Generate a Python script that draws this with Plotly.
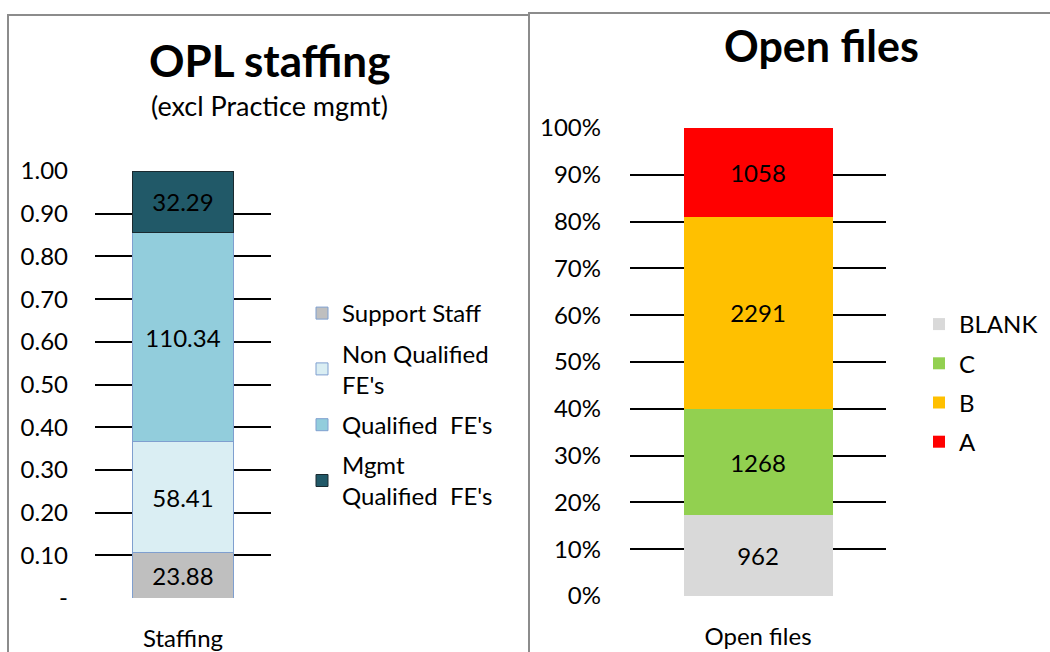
import plotly.graph_objects as go

# ---------------- data ----------------
staff_categories = ["Staffing"]
staff_series = ["Support Staff", "Non Qualified<br>FE's", "Qualified\u00a0 FE's", "Mgmt<br>Qualified\u00a0 FE's"]
staff_values = [23.88, 58.41, 110.34, 32.29]
staff_colors = ["#BFBFBF", "#DAEEF3", "#92CDDC", "#215968"]
staff_line_colors = ["#7F9FCF", "#7F9FCF", "#7F9FCF", "#1A2A30"]
staff_tickvals = [0, 0.1, 0.2, 0.3, 0.4, 0.5, 0.6, 0.7, 0.8, 0.9, 1.0]
staff_ticktext = ["-", "0.10", "0.20", "0.30", "0.40", "0.50", "0.60", "0.70", "0.80", "0.90", "1.00"]

files_categories = ["Open files"]
files_series = ["BLANK", "C", "B", "A"]
files_values = [962, 1268, 2291, 1058]
files_colors = ["#D9D9D9", "#92D050", "#FFC000", "#FF0000"]
files_tickvals = [0, 0.1, 0.2, 0.3, 0.4, 0.5, 0.6, 0.7, 0.8, 0.9, 1.0]
files_ticktext = ["0%", "10%", "20%", "30%", "40%", "50%", "60%", "70%", "80%", "90%", "100%"]

W, H = 1050, 652
FONT = "Lato"
FS = 24
px = lambda x: x / W
py = lambda y: 1 - y / H

fig = go.Figure()

for name, val, col, lc in zip(staff_series, staff_values, staff_colors, staff_line_colors):
    fig.add_trace(go.Bar(
        x=staff_categories, y=[val], name=name, text=[f"{val:.2f}"],
        textposition="inside", insidetextanchor="middle", textangle=0,
        textfont=dict(family=FONT, size=FS, color="black"),
        marker=dict(color=col, line=dict(color=lc, width=1)),
        width=0.577, xaxis="x", yaxis="y", legend="legend", legendgroup=name,
    ))

for name, val, col in zip(files_series, files_values, files_colors):
    fig.add_trace(go.Bar(
        x=files_categories, y=[val], name=name, text=[str(val)],
        textposition="inside", insidetextanchor="middle", textangle=0,
        textfont=dict(family=FONT, size=FS, color="black"),
        marker=dict(color=col, line=dict(width=0)),
        width=0.582, xaxis="x2", yaxis="y2", legend="legend2", legendgroup=name,
    ))

axis_common = dict(showline=False, zeroline=False, ticks="", automargin=False,
                   tickfont=dict(family=FONT, size=FS, color="black"))

fig.update_layout(
    width=W, height=H, margin=dict(l=0, r=0, t=0, b=0, autoexpand=False),
    paper_bgcolor="white", plot_bgcolor="white",
    barmode="stack", barnorm="fraction",
    font=dict(family=FONT, color="black"),
    showlegend=True,
    xaxis=dict(domain=[px(95), px(271)], range=[-0.5, 0.5], showgrid=False,
               ticklabelstandoff=24, **axis_common),
    yaxis=dict(domain=[py(598), py(171)], range=[0, 1], showgrid=True,
               gridcolor="black", gridwidth=2, tickvals=staff_tickvals,
               ticktext=staff_ticktext, ticklabelstandoff=26, **axis_common),
    xaxis2=dict(domain=[px(630), px(886)], range=[-0.5, 0.5], showgrid=False,
                anchor="y2", ticklabelstandoff=24, **axis_common),
    yaxis2=dict(domain=[py(596), py(128)], range=[0, 1], showgrid=True,
                gridcolor="black", gridwidth=2, tickvals=files_tickvals,
                ticktext=files_ticktext, anchor="x2", ticklabelstandoff=28, **axis_common),
    legend=dict(x=px(302), y=py(291), xanchor="left", yanchor="top",
                traceorder="grouped", tracegroupgap=6,
                font=dict(family=FONT, size=FS, color="black"), bgcolor="rgba(0,0,0,0)"),
    legend2=dict(x=px(919), y=py(302), xanchor="left", yanchor="top",
                 traceorder="grouped", tracegroupgap=5,
                 font=dict(family=FONT, size=FS, color="black"), bgcolor="rgba(0,0,0,0)"),
    annotations=[
        dict(text="<b>OPL staffing</b>", x=px(269), y=py(60), xref="paper", yref="paper",
             xanchor="center", yanchor="middle",
             showarrow=False, font=dict(family=FONT, size=44, color="black")),
        dict(text="(excl Practice mgmt)", x=px(269), y=py(106), xref="paper", yref="paper",
             xanchor="center", yanchor="middle",
             showarrow=False, font=dict(family=FONT, size=27, color="black")),
        dict(text="<b>Open files</b>", x=px(821), y=py(45), xref="paper", yref="paper",
             xanchor="center", yanchor="middle",
             showarrow=False, font=dict(family=FONT, size=43, color="black")),
    ],
    shapes=[
        dict(type="rect", xref="paper", yref="paper", x0=px(8), x1=px(529), y0=py(15), y1=py(700),
             line=dict(color="#8C8C8C", width=2), fillcolor="rgba(0,0,0,0)", layer="above"),
        dict(type="rect", xref="paper", yref="paper", x0=px(529), x1=px(1100), y0=py(13), y1=py(700),
             line=dict(color="#8C8C8C", width=2), fillcolor="rgba(0,0,0,0)", layer="above"),
    ],
)

fig.write_html("out.html", config={"displayModeBar": False},
               post_script="document.body.style.margin='0';document.body.style.overflow='hidden';")
